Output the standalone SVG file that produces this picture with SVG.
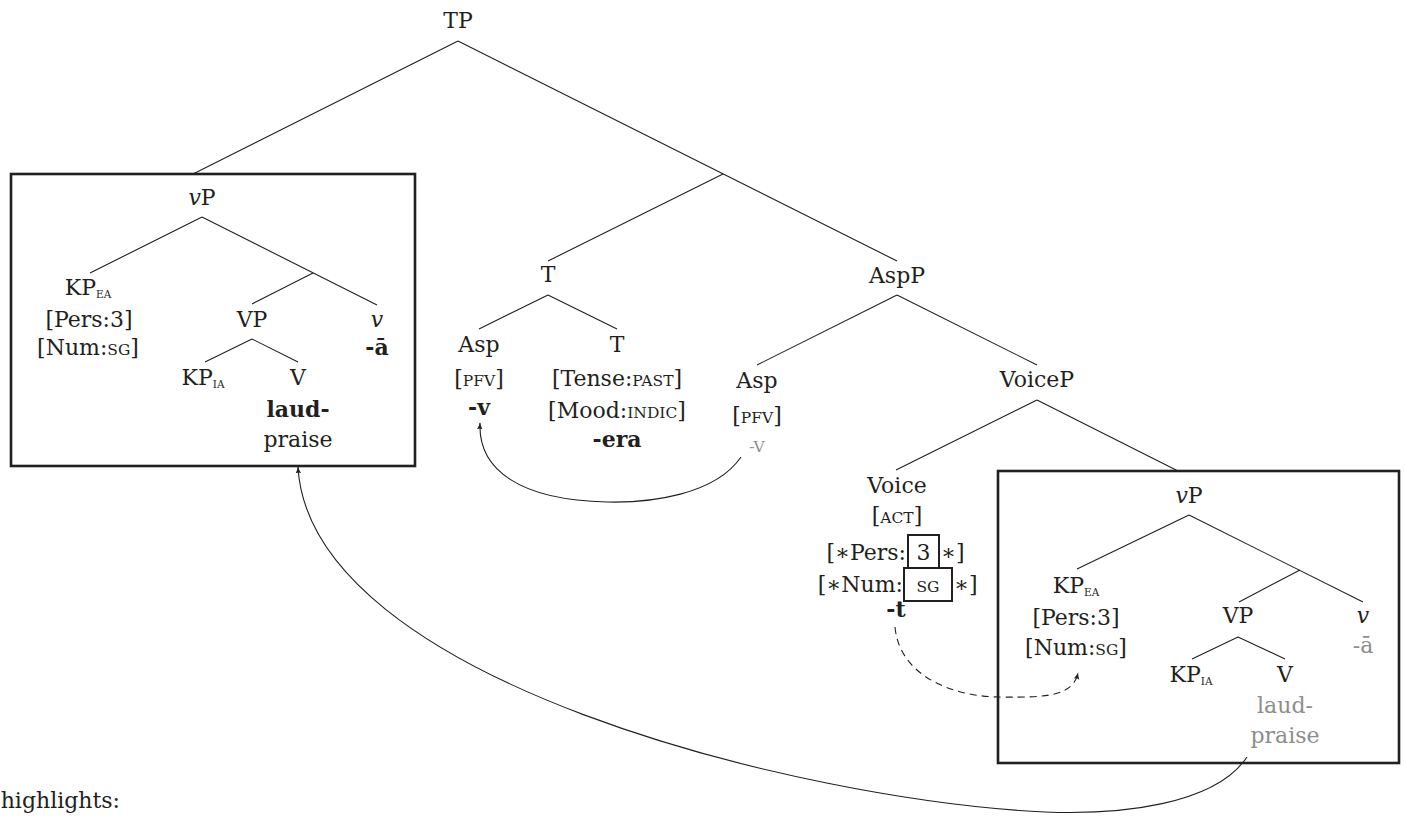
<svg xmlns="http://www.w3.org/2000/svg" width="1405" height="819" viewBox="0 0 1405 819">
<style>
text{font-family:"DejaVu Serif","Liberation Serif","Noto Serif",serif;font-size:22px;fill:#231f20;text-anchor:middle}
.g{fill:#8e8e8e}
.b{font-weight:bold}
.sc{font-size:15.5px}
.sub{font-size:10.5px}
.i{font-style:italic}
.edge{stroke:#231f20;stroke-width:1.1;fill:none}
.box{stroke:#231f20;stroke-width:2.6;fill:none}
.fbox{stroke:#231f20;stroke-width:2;fill:none}
.arc{stroke:#231f20;stroke-width:1.1;fill:none}
</style>
<defs>
<marker id="ah" viewBox="0 0 10 10" refX="9" refY="5" markerWidth="7" markerHeight="7" orient="auto" markerUnits="userSpaceOnUse">
<path d="M0,1 Q5,4 10,5 Q5,6 0,9 Q2,5 0,1 Z" fill="#231f20"/>
</marker>
</defs>
<rect width="1405" height="819" fill="#fff"/>

<g id="connectors">
<path class="edge" d="M458,41 L193,174 M458,41 L897,261 M723,174 L548,261"/>
<path class="edge" d="M548,295 L479,329 M548,295 L617,329"/>
<path class="edge" d="M897,295 L757,365 M897,295 L1037,365"/>
<path class="edge" d="M1037,400 L896,470 M1037,400 L1178,471"/>
<path class="edge" d="M202,217 L90,273 M202,217 L377,305 M313,273 L252,304"/>
<path class="edge" d="M252,339 L205,362 M252,339 L298,362"/>
<path class="edge" d="M1189,515 L1077,569 M1189,515 L1363,602 M1300,570 L1239,602"/>
<path class="edge" d="M1238,637 L1192,659 M1238,637 L1285,659"/>
<path class="arc" marker-end="url(#ah)" d="M741,457 C715,495 650,503 607,502 C520,500 478,470 480,423"/>
<path class="arc" stroke-dasharray="7,5" marker-end="url(#ah)" d="M895,627 C900,680 960,697 1000,697 C1050,698 1073,695 1078,673"/>
<path class="arc" marker-end="url(#ah)" d="M1247,757 C1215,805 1120,815 1045,812 C800,800 310,680 298,467"/>
</g>

<g id="TP"><text x="458" y="28">TP</text></g>

<g id="vP-left">
<rect class="box" x="11" y="174" width="404" height="292"/>
<text x="202" y="205"><tspan class="i">v</tspan>P</text>
</g>
<g id="KPEA-left">
<text x="88" y="295">KP<tspan class="sub" dy="3">EA</tspan></text>
<text x="89" y="327">[Pers:3]</text>
<text x="88" y="355">[Num:<tspan class="sc">SG</tspan>]</text>
</g>
<g id="VP-left"><text x="252" y="327">VP</text></g>
<g id="KPIA-left"><text x="203" y="385">KP<tspan class="sub" dy="3">IA</tspan></text></g>
<g id="V-left">
<text x="298" y="385">V</text>
<text class="b" x="298" y="417">laud-</text>
<text x="298" y="447">praise</text>
</g>
<g id="v-left">
<text class="i" x="377" y="327">v</text>
<text class="b" x="377" y="355">-ā</text>
</g>

<g id="T-bar"><text x="548" y="282">T</text></g>
<g id="Asp-left">
<text x="479" y="352">Asp</text>
<text x="479" y="386">[<tspan class="sc">PFV</tspan>]</text>
<text class="b" x="479" y="415">-v</text>
</g>
<g id="T-head">
<text x="617" y="352">T</text>
<text x="617" y="386">[Tense:<tspan class="sc">PAST</tspan>]</text>
<text x="617" y="418">[Mood:<tspan class="sc">INDIC</tspan>]</text>
<text class="b" x="617" y="447">-era</text>
</g>

<g id="AspP"><text x="897" y="283">AspP</text></g>
<g id="Asp-right">
<text x="757" y="388">Asp</text>
<text x="757" y="423">[<tspan class="sc">PFV</tspan>]</text>
<text class="g sc" x="757" y="452">-V</text>
</g>

<g id="VoiceP"><text x="1037" y="387">VoiceP</text></g>
<g id="Voice">
<text x="897" y="493">Voice</text>
<text x="897" y="523">[<tspan class="sc">ACT</tspan>]</text>
<text x="906" y="560" style="text-anchor:end">[∗Pers:</text>
<rect class="fbox" x="908" y="535" width="31" height="33"/>
<text x="923.5" y="560">3</text>
<text x="941" y="560" style="text-anchor:start">∗]</text>
<text x="903" y="592" style="text-anchor:end">[∗Num:</text>
<rect class="fbox" x="904" y="568" width="48" height="33"/>
<text class="sc" x="928" y="592">SG</text>
<text x="954" y="592" style="text-anchor:start">∗]</text>
<text class="b" x="896" y="617">-t</text>
</g>

<g id="vP-right">
<rect class="box" x="998" y="471" width="401" height="292"/>
<text x="1189" y="503"><tspan class="i">v</tspan>P</text>
</g>
<g id="KPEA-right">
<text x="1076" y="593">KP<tspan class="sub" dy="3">EA</tspan></text>
<text x="1076" y="625">[Pers:3]</text>
<text x="1076" y="655">[Num:<tspan class="sc">SG</tspan>]</text>
</g>
<g id="VP-right"><text x="1238" y="623">VP</text></g>
<g id="KPIA-right"><text x="1191" y="682">KP<tspan class="sub" dy="3">IA</tspan></text></g>
<g id="V-right">
<text x="1285" y="682">V</text>
<text class="g" x="1285" y="713">laud-</text>
<text class="g" x="1285" y="743">praise</text>
</g>
<g id="v-right">
<text class="i" x="1363" y="623">v</text>
<text class="g" x="1363" y="653">-ā</text>
</g>

<g id="caption"><text x="120" y="808" style="text-anchor:end">highlights:</text></g>
</svg>
